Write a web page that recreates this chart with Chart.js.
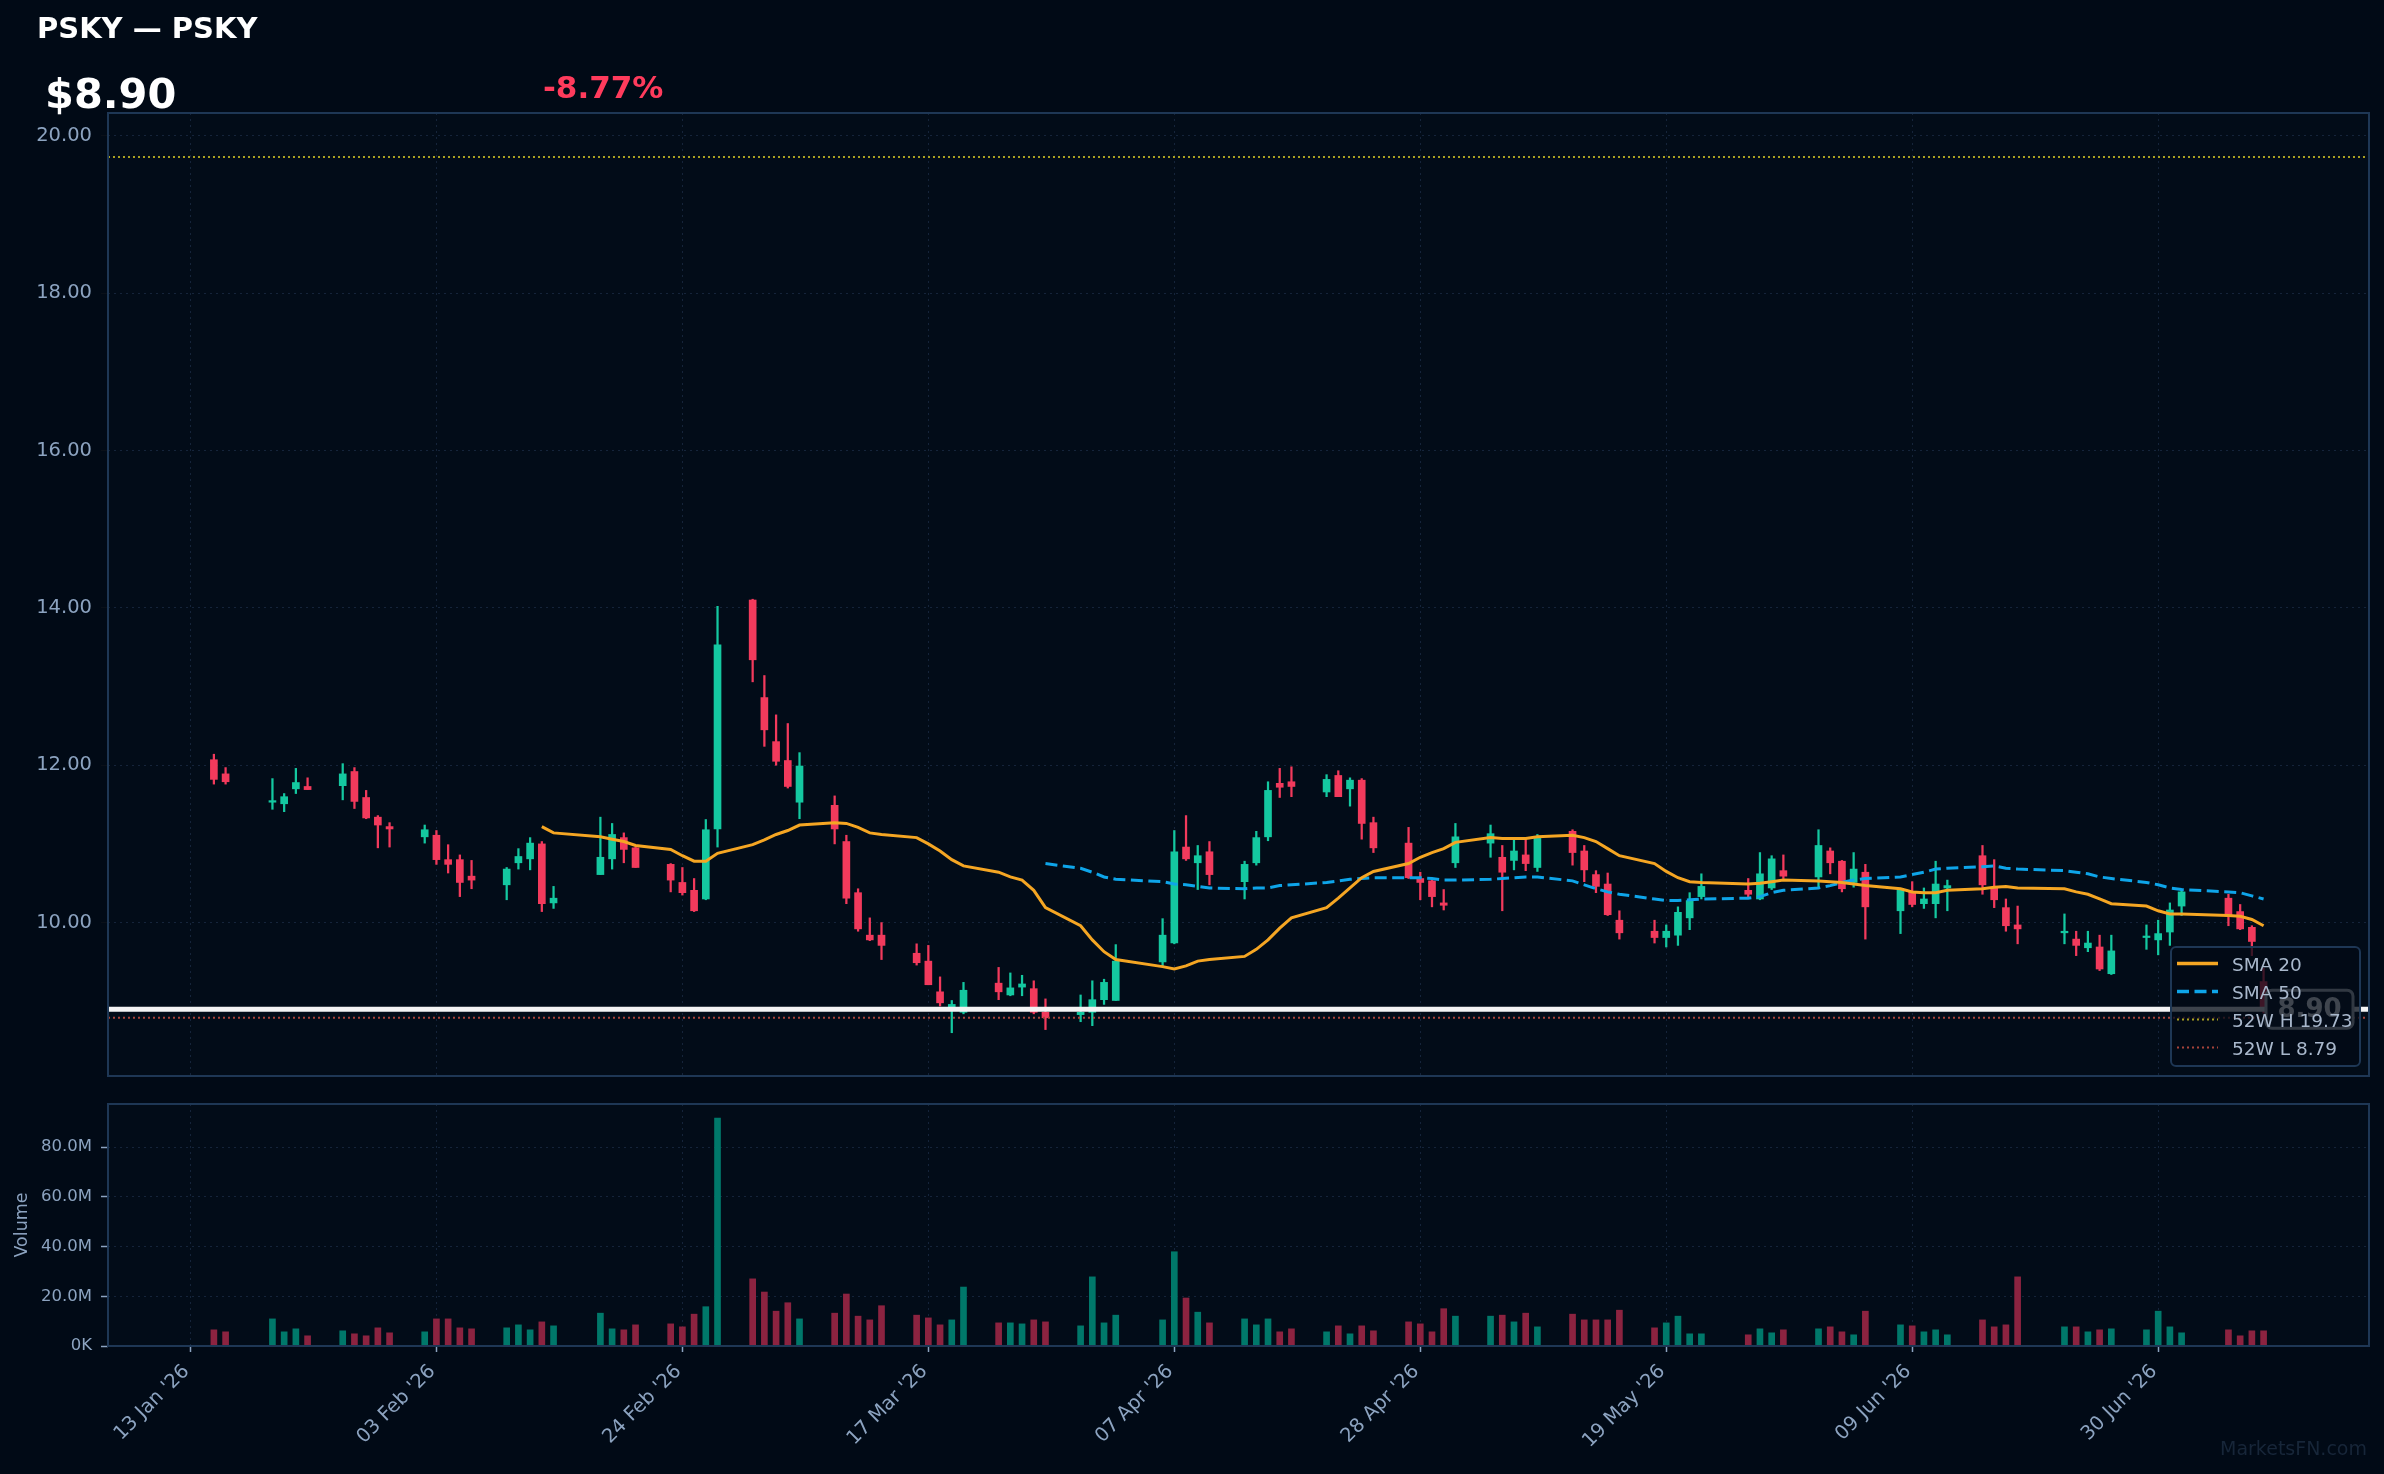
<!DOCTYPE html>
<html>
<head>
<meta charset="utf-8">
<script src="https://cdn.jsdelivr.net/npm/chart.js@4.4.1/dist/chart.umd.min.js"></script>
<style>
  html, body { margin: 0; padding: 0; background: #010a16; }
  #wrap { position: relative; width: 2384px; height: 1474px; overflow: hidden; background: #010a16; font-family: 'DejaVu Sans', sans-serif; }
  canvas { position: absolute; left: 0; top: 0; }
  .txt { position: absolute; white-space: nowrap; line-height: 1; }
</style>
</head>
<body>
<div id="wrap">
  <canvas id="price" width="2384" height="1474"></canvas>
  <canvas id="volume" width="2384" height="1474"></canvas>
  <div class="txt" style="left:37px;top:14px;font-size:29px;font-weight:bold;color:#ffffff">PSKY — PSKY</div>
  <div class="txt" style="left:45px;top:73px;font-size:41.5px;font-weight:bold;color:#ffffff">$8.90</div>
  <div class="txt" style="left:543px;top:72px;font-size:31px;font-weight:bold;color:#ff3b5c">-8.77%</div>
  <div class="txt" style="right:17px;top:1439px;font-size:19px;color:#172639">MarketsFN.com</div>
</div>
<script>
// ---- data ----
const dates = [
  '2026-01-15','2026-01-16','2026-01-20','2026-01-21','2026-01-22','2026-01-23','2026-01-26','2026-01-27','2026-01-28','2026-01-29',
  '2026-01-30','2026-02-02','2026-02-03','2026-02-04','2026-02-05','2026-02-06','2026-02-09','2026-02-10','2026-02-11','2026-02-12',
  '2026-02-13','2026-02-17','2026-02-18','2026-02-19','2026-02-20','2026-02-23','2026-02-24','2026-02-25','2026-02-26','2026-02-27',
  '2026-03-02','2026-03-03','2026-03-04','2026-03-05','2026-03-06','2026-03-09','2026-03-10','2026-03-11','2026-03-12','2026-03-13',
  '2026-03-16','2026-03-17','2026-03-18','2026-03-19','2026-03-20','2026-03-23','2026-03-24','2026-03-25','2026-03-26','2026-03-27',
  '2026-03-30','2026-03-31','2026-04-01','2026-04-02','2026-04-06','2026-04-07','2026-04-08','2026-04-09','2026-04-10','2026-04-13',
  '2026-04-14','2026-04-15','2026-04-16','2026-04-17','2026-04-20','2026-04-21','2026-04-22','2026-04-23','2026-04-24','2026-04-27',
  '2026-04-28','2026-04-29','2026-04-30','2026-05-01','2026-05-04','2026-05-05','2026-05-06','2026-05-07','2026-05-08','2026-05-11',
  '2026-05-12','2026-05-13','2026-05-14','2026-05-15','2026-05-18','2026-05-19','2026-05-20','2026-05-21','2026-05-22','2026-05-26',
  '2026-05-27','2026-05-28','2026-05-29','2026-06-01','2026-06-02','2026-06-03','2026-06-04','2026-06-05','2026-06-08','2026-06-09',
  '2026-06-10','2026-06-11','2026-06-12','2026-06-15','2026-06-16','2026-06-17','2026-06-18','2026-06-22','2026-06-23','2026-06-24',
  '2026-06-25','2026-06-26','2026-06-29','2026-06-30','2026-07-01','2026-07-02','2026-07-06','2026-07-07','2026-07-08','2026-07-09'
];
const opens = [
  12.07,11.89,11.53,11.51,11.70,11.73,11.74,11.92,11.59,11.34, 11.22,11.09,11.11,10.80,10.80,10.59,10.48,10.76,10.81,11.00,
  10.25,10.61,10.81,11.08,10.95,10.74,10.51,10.41,10.30,11.19, 14.10,12.86,12.30,12.06,11.53,11.49,11.03,10.38,9.84,9.84,
  9.61,9.51,9.12,8.93,8.86,9.23,9.08,9.18,9.16,8.86, 8.83,8.86,9.02,9.01,9.50,9.74,10.96,10.76,10.90,10.52,
  10.76,11.09,11.77,11.79,11.66,11.87,11.70,11.81,11.27,11.01, 10.56,10.53,10.25,10.76,11.01,10.83,10.79,10.86,10.70,11.16,
  10.91,10.61,10.49,10.03,9.89,9.81,9.84,10.06,10.33,10.41, 10.30,10.44,10.66,10.58,10.91,10.78,10.51,10.64,10.15,10.39,
  10.24,10.24,10.44,10.85,10.44,10.19,9.97,9.87,9.79,9.68, 9.69,9.35,9.81,9.78,9.88,10.21,10.31,10.14,9.94,9.25
];
const highs = [
  12.14,11.97,11.83,11.64,11.96,11.84,12.02,11.97,11.68,11.36, 11.27,11.24,11.17,10.99,10.86,10.79,10.70,10.94,11.08,11.03,
  10.46,11.34,11.26,11.14,10.96,10.75,10.70,10.56,11.31,14.02, 14.11,13.14,12.64,12.53,12.16,11.61,11.11,10.43,10.06,10.00,
  9.73,9.71,9.31,9.01,9.24,9.43,9.36,9.33,9.26,9.03, 9.08,9.26,9.28,9.72,10.05,11.17,11.36,10.98,11.03,10.78,
  11.16,11.79,11.96,11.98,11.88,11.93,11.84,11.83,11.34,11.21, 10.64,10.54,10.42,11.26,11.24,10.98,11.07,11.07,11.12,11.18,
  10.98,10.66,10.63,10.15,10.03,9.97,10.20,10.38,10.62,10.56, 10.89,10.85,10.86,11.18,10.95,10.79,10.89,10.74,10.41,10.52,
  10.44,10.78,10.54,10.98,10.80,10.30,10.21,10.11,9.89,9.89, 9.84,9.84,9.97,10.03,10.25,10.41,10.36,10.23,9.96,9.42
];
const lows = [
  11.76,11.76,11.44,11.41,11.64,11.69,11.56,11.45,11.32,10.95, 10.96,11.01,10.74,10.63,10.33,10.43,10.29,10.68,10.67,10.14,
  10.18,10.61,10.68,10.76,10.70,10.39,10.35,10.14,10.29,10.96, 13.06,12.24,12.00,11.71,11.32,11.00,10.24,9.89,9.77,9.53,
  9.46,9.21,8.94,8.60,8.84,9.02,9.07,9.07,8.84,8.64, 8.74,8.69,8.96,9.01,9.45,9.73,10.79,10.42,10.48,10.30,
  10.73,11.04,11.59,11.60,11.60,11.60,11.48,11.06,10.89,10.56, 10.29,10.20,10.16,10.70,10.83,10.15,10.67,10.66,10.65,10.73,
  10.52,10.38,10.09,9.79,9.74,9.69,9.71,9.91,10.30,10.31, 10.29,10.42,10.56,10.44,10.62,10.39,10.45,9.79,9.86,10.20,
  10.18,10.06,10.15,10.36,10.19,9.89,9.73,9.73,9.58,9.63, 9.39,9.34,9.66,9.59,9.71,10.09,9.96,9.91,9.58,8.85
];
const closes = [
  11.82,11.79,11.55,11.60,11.78,11.69,11.89,11.54,11.33,11.24, 11.19,11.18,10.80,10.74,10.51,10.54,10.68,10.84,11.01,10.24,
  10.31,10.83,11.12,10.93,10.70,10.54,10.38,10.15,11.18,13.53, 13.34,12.45,12.05,11.73,11.99,11.19,10.31,9.92,9.78,9.71,
  9.49,9.21,8.98,8.96,9.14,9.12,9.17,9.22,8.86,8.79, 8.86,9.02,9.24,9.51,9.84,10.90,10.81,10.85,10.61,10.74,
  11.08,11.68,11.72,11.73,11.82,11.60,11.81,11.26,10.95,10.57, 10.51,10.33,10.22,11.09,11.13,10.64,10.91,10.75,11.09,10.89,
  10.67,10.46,10.10,9.87,9.81,9.89,10.13,10.28,10.46,10.36, 10.62,10.81,10.59,10.98,10.76,10.43,10.68,10.20,10.41,10.23,
  10.30,10.49,10.47,10.48,10.29,9.96,9.92,9.89,9.71,9.74, 9.41,9.64,9.82,9.86,10.16,10.39,10.08,9.92,9.76,8.90
];
// volume in millions of shares
const volumes = [
  6.5,5.7,10.9,5.7,6.9,4.1,6.1,4.9,4.1,7.3, 5.3,5.7,10.9,10.9,7.3,6.9,7.3,8.5,6.5,9.7,
  8.1,13.2,6.9,6.5,8.5,8.9,7.7,12.8,15.8,91.6, 27.0,21.7,14.0,17.4,10.9,13.2,20.9,12.0,10.5,16.2,
  12.4,11.3,8.5,10.5,23.7,9.3,9.3,8.9,10.5,9.7, 8.1,27.8,9.3,12.4,10.5,37.9,19.3,13.6,9.3,10.9,
  8.5,10.9,5.7,6.9,5.7,8.1,4.9,8.1,6.1,9.7, 8.9,5.7,15.0,12.0,12.0,12.4,9.7,13.2,7.7,12.8,
  10.5,10.5,10.5,14.4,7.3,9.3,12.0,4.9,4.9,4.5, 6.9,5.3,6.5,6.9,7.7,5.7,4.5,14.0,8.5,8.1,
  5.7,6.5,4.5,10.5,7.7,8.5,27.8,7.7,7.7,5.7, 6.5,6.9,6.5,14.0,7.7,5.3,6.5,4.1,6.1,6.1
];
// SMA 20 starts on the 20th session (12 Feb), SMA 50 on the 50th (27 Mar)
const sma20Start = 19;
const sma20 = [
  11.22,11.14,11.09,11.06,11.03,10.98,10.93,10.85,10.78,10.78, 10.88,10.99,11.05,11.12,11.17,11.24,11.27,11.26,11.21,11.14,
  11.12,11.08,11.00,10.91,10.80,10.72,10.64,10.58,10.54,10.41, 10.19,9.96,9.78,9.63,9.53,9.44,9.41,9.45,9.51,9.53,
  9.57,9.66,9.78,9.93,10.06,10.19,10.31,10.44,10.57,10.65, 10.75,10.83,10.89,10.94,11.02,11.08,11.07,11.07,11.07,11.09,
  11.11,11.08,11.03,10.94,10.85,10.75,10.65,10.57,10.52,10.51, 10.49,10.50,10.52,10.54,10.53,10.52,10.51,10.49,10.47,10.43,
  10.39,10.38,10.38,10.41,10.43,10.45,10.46,10.44,10.43,10.39, 10.36,10.30,10.24,10.21,10.15,10.11,10.11,10.09,10.08,10.04,
  9.96
];
const sma50Start = 49;
const sma50 = [
  10.75,10.69,10.64,10.58,10.55,10.52,10.49,10.48,10.46,10.44, 10.43,10.44,10.44,10.47,10.48,10.51,10.53,10.55,10.56,10.57,
  10.57,10.57,10.56,10.54,10.54,10.55,10.56,10.57,10.58,10.58, 10.53,10.48,10.43,10.39,10.36,10.30,10.28,10.28,10.29,10.30,
  10.31,10.33,10.38,10.41,10.44,10.47,10.51,10.54,10.56,10.58, 10.61,10.64,10.68,10.69,10.71,10.72,10.69,10.68,10.66,10.64,
  10.62,10.58,10.56,10.51,10.48,10.44,10.42,10.39,10.38,10.34, 10.30
];
const tickDates = ['2026-01-13','2026-02-03','2026-02-24','2026-03-17','2026-04-07','2026-04-28','2026-05-19','2026-06-09','2026-06-30'];
const tickLabels = ["13 Jan '26","03 Feb '26","24 Feb '26","17 Mar '26","07 Apr '26","28 Apr '26","19 May '26","09 Jun '26","30 Jun '26"];
const priceTicks = [10, 12, 14, 16, 18, 20];
const volumeTicks = [0, 20, 40, 60, 80];
const high52 = 19.73;
const low52 = 8.79;
const lastPrice = 8.90;

// ---- styling ----
const UP = '#14c8a0', DOWN = '#f23a5c';
const VOL_UP = '#00786a', VOL_DOWN = '#8c2340';
const ORANGE = '#f5a623', BLUE = '#0ea5e9';
const H52 = '#aaa020', L52 = '#a8433a';
const GRID = '#15243a', TXT = '#8ca3c0', FRAME = '#1e3755', PLOT_BG = '#020c18';

Chart.defaults.font.family = "'DejaVu Sans', sans-serif";

const epoch = Date.UTC(2026, 0, 13);
const dayNum = s => { const [y, m, d] = s.split('-').map(Number); return (Date.UTC(y, m - 1, d) - epoch) / 86400000; };
const xs = dates.map(dayNum);
const tickXs = tickDates.map(dayNum);
const xMin = -7.04, xMax = 186.0;
const up = closes.map((c, i) => c >= opens[i]);

const framePlugin = {
  id: 'frame',
  beforeDraw(chart) {
    const { ctx, chartArea: a } = chart;
    ctx.save();
    ctx.fillStyle = PLOT_BG;
    ctx.fillRect(a.left, a.top, a.right - a.left, a.bottom - a.top);
    ctx.restore();
  },
  afterDraw(chart) {
    const { ctx, chartArea: a } = chart;
    ctx.save();
    ctx.strokeStyle = FRAME;
    ctx.lineWidth = 2;
    ctx.strokeRect(a.left, a.top, a.right - a.left, a.bottom - a.top);
    ctx.restore();
  }
};

function roundRect(ctx, x, y, w, h, r) {
  ctx.beginPath();
  ctx.moveTo(x + r, y);
  ctx.arcTo(x + w, y, x + w, y + h, r);
  ctx.arcTo(x + w, y + h, x, y + h, r);
  ctx.arcTo(x, y + h, x, y, r);
  ctx.arcTo(x, y, x + w, y, r);
  ctx.closePath();
}

const legendItems = [
  { text: 'SMA 20', color: ORANGE, width: 3.5, dash: [] },
  { text: 'SMA 50', color: BLUE, width: 3.5, dash: [12, 5.5] },
  { text: '52W H ' + high52.toFixed(2), color: H52, width: 2, dash: [2, 3] },
  { text: '52W L ' + low52.toFixed(2), color: L52, width: 2, dash: [2, 3] }
];

const overlayPlugin = {
  id: 'overlay',
  afterDatasetsDraw(chart) {
    // last price tag at the right edge; the legend is later drawn over it
    const { ctx, chartArea: a } = chart;
    const py = chart.scales.y.getPixelForValue(lastPrice);
    const bx = a.right - 103, bw = 87, bh = 38;
    ctx.save();
    roundRect(ctx, bx, py - bh / 2, bw, bh, 6);
    ctx.fillStyle = '#0a1420';
    ctx.fill();
    ctx.strokeStyle = '#c4c8ce';
    ctx.lineWidth = 3;
    ctx.stroke();
    ctx.fillStyle = '#ffffff';
    ctx.font = "bold 26px 'DejaVu Sans'";
    ctx.textAlign = 'center';
    ctx.textBaseline = 'middle';
    ctx.fillText(lastPrice.toFixed(2), bx + bw / 2, py + 1);
    ctx.restore();
  },
  afterDraw(chart) {
    const { ctx, chartArea: a } = chart;
    const lx = a.right - 198, ly = a.bottom - 129, lw = 189, lh = 119;
    ctx.save();
    roundRect(ctx, lx, ly, lw, lh, 5);
    ctx.fillStyle = 'rgba(2,11,22,0.76)';
    ctx.fill();
    ctx.strokeStyle = FRAME;
    ctx.lineWidth = 2;
    ctx.stroke();
    ctx.font = "18.5px 'DejaVu Sans'";
    ctx.textBaseline = 'alphabetic';
    ctx.textAlign = 'left';
    legendItems.forEach((it, i) => {
      const ry = ly + 16.5 + i * 28;
      ctx.strokeStyle = it.color;
      ctx.lineWidth = it.width;
      ctx.setLineDash(it.dash);
      ctx.beginPath();
      ctx.moveTo(lx + 6, ry);
      ctx.lineTo(lx + 47, ry);
      ctx.stroke();
      ctx.setLineDash([]);
      ctx.fillStyle = '#a9b8cc';
      ctx.fillText(it.text, lx + 61, ry + 7);
    });
    ctx.restore();
  }
};

const flatLine = (v, color, width, dash, order) => ({
  type: 'line',
  data: [{ x: xMin, y: v }, { x: xMax, y: v }],
  borderColor: color, borderWidth: width, borderDash: dash,
  pointRadius: 0, order
});

new Chart(document.getElementById('price'), {
  type: 'bar',
  data: {
    datasets: [
      flatLine(lastPrice, '#f4f4f4', 5, [], 0),
      {
        type: 'line', label: 'SMA 20',
        data: sma20.map((v, i) => ({ x: xs[i + sma20Start], y: v })),
        borderColor: ORANGE, borderWidth: 3, pointRadius: 0, order: 1
      },
      {
        type: 'line', label: 'SMA 50',
        data: sma50.map((v, i) => ({ x: xs[i + sma50Start], y: v })),
        borderColor: BLUE, borderWidth: 3, borderDash: [12, 5.5], pointRadius: 0, order: 1
      },
      flatLine(high52, H52, 2, [2, 3], 2),
      flatLine(low52, L52, 2, [2, 3], 2),
      {
        label: 'wick',
        data: xs.map((x, i) => ({ x, y: [lows[i], highs[i]] })),
        backgroundColor: up.map(u => u ? UP : DOWN),
        barThickness: 1.6, grouped: false, order: 4
      },
      {
        label: 'body',
        data: xs.map((x, i) => ({ x, y: [opens[i], closes[i]] })),
        backgroundColor: up.map(u => u ? UP : DOWN),
        barThickness: 7, minBarLength: 1.5, grouped: false, order: 3
      }
    ]
  },
  options: {
    responsive: false, animation: false, devicePixelRatio: 1,
    layout: { padding: { left: 0, right: 15, top: 113, bottom: 398 } },
    plugins: { legend: { display: false }, tooltip: { enabled: false } },
    scales: {
      x: {
        type: 'linear', min: xMin, max: xMax, offset: false,
        afterBuildTicks: s => { s.ticks = tickXs.map(v => ({ value: v })); },
        afterFit: s => { s.height = 0; },
        ticks: { display: false },
        grid: { color: GRID, drawTicks: false, offset: false },
        border: { display: false, dash: [2, 4] }
      },
      y: {
        min: 8.05, max: 20.29,
        afterBuildTicks: s => { s.ticks = priceTicks.map(v => ({ value: v })); },
        afterFit: s => { s.width = 108; },
        ticks: { color: TXT, font: { size: 19.5 }, padding: 9, callback: v => v.toFixed(2) },
        grid: { color: GRID, tickColor: '#0a1019', tickLength: 7 },
        border: { display: false, dash: [2, 4] }
      }
    }
  },
  plugins: [framePlugin, overlayPlugin]
});

new Chart(document.getElementById('volume'), {
  type: 'bar',
  data: {
    datasets: [{
      label: 'Volume',
      data: xs.map((x, i) => ({ x, y: volumes[i] })),
      backgroundColor: up.map(u => u ? VOL_UP : VOL_DOWN),
      barThickness: 6, grouped: false
    }]
  },
  options: {
    responsive: false, animation: false, devicePixelRatio: 1,
    layout: { padding: { left: 0, right: 15, top: 1104, bottom: 0 } },
    plugins: { legend: { display: false }, tooltip: { enabled: false } },
    scales: {
      x: {
        type: 'linear', min: xMin, max: xMax, offset: false,
        afterBuildTicks: s => { s.ticks = tickXs.map(v => ({ value: v })); },
        afterFit: s => { s.height = 128; },
        ticks: {
          color: TXT, font: { size: 19.5 }, minRotation: 45, maxRotation: 45,
          autoSkip: false, padding: 8, labelOffset: -4, callback: (v, i) => tickLabels[i]
        },
        grid: { color: GRID, offset: false, tickColor: TXT, tickLength: 6, tickWidth: 1.5 },
        border: { display: false, dash: [2, 4] }
      },
      y: {
        min: 0, max: 97.3,
        afterBuildTicks: s => { s.ticks = volumeTicks.map(v => ({ value: v })); },
        afterFit: s => { s.width = 108; },
        ticks: { color: TXT, font: { size: 16.5 }, padding: 9, callback: v => v === 0 ? '0K' : v.toFixed(1) + 'M' },
        grid: { color: GRID, tickColor: TXT, tickLength: 7, tickWidth: 1.5 },
        border: { display: false, dash: [2, 4] },
        title: { display: true, text: 'Volume', color: TXT, font: { size: 17.5 }, padding: { top: 12, bottom: 0 } }
      }
    }
  },
  plugins: [framePlugin]
});
</script>
</body>
</html>
